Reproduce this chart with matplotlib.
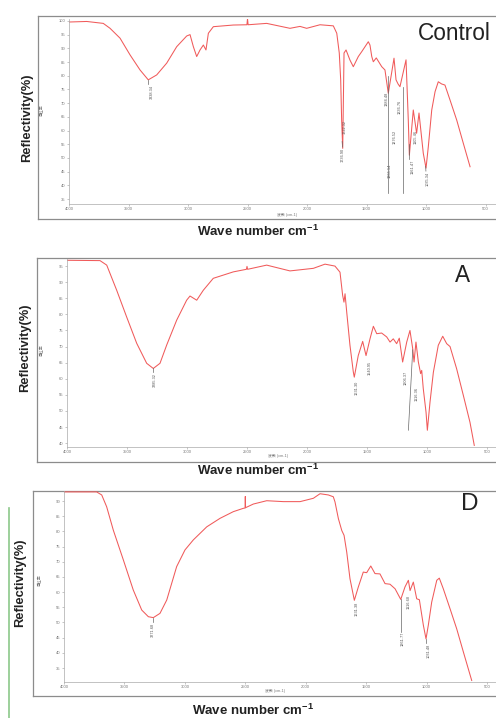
import numpy as np
import matplotlib
matplotlib.use("Agg")
import matplotlib.pyplot as plt

plt.rcParams['font.family'] = ['Liberation Sans', 'Noto Sans CJK SC', 'DejaVu Sans']
plt.rcParams['mathtext.fontset'] = 'custom'
plt.rcParams['mathtext.rm'] = 'Liberation Sans:bold'
plt.rcParams['mathtext.bf'] = 'Liberation Sans:bold'
plt.rcParams['mathtext.default'] = 'bf'

W, H = 496, 718

# ---- Control spectrum (wavenumber, %) ----
ctrl_wn = [4000, 3851, 3712, 3655, 3571, 3487, 3403, 3334, 3263, 3179, 3095, 3011, 2983,
           2955, 2927, 2899, 2871, 2849, 2829, 2787, 2619, 2505, 2500, 2495, 2339, 2143,
           2059, 2003, 1891, 1779, 1750, 1729, 1717, 1709, 1700, 1689, 1672, 1639, 1611,
           1569, 1540, 1485, 1471, 1456, 1443, 1418, 1372, 1345, 1317, 1269, 1252, 1235,
           1219, 1168, 1149, 1140, 1107, 1079, 1059, 1023, 1000, 981, 952, 924, 897, 869,
           841, 798, 742, 687, 630]
ctrl_val = [99.6, 99.8, 99.1, 97.3, 93.7, 87.6, 82.1, 78.5, 80.3, 84.6, 90.6, 94.5, 95.0,
            90.6, 87.0, 89.4, 91.2, 89.4, 95.5, 97.9, 98.5, 98.6, 100.8, 98.6, 99.1, 97.3,
            98.0, 97.3, 98.6, 98.2, 95.5, 88.3, 78.5, 63.8, 53.5, 88.3, 89.4, 85.7, 83.3,
            87.0, 88.8, 92.4, 91.2, 87.0, 85.1, 86.5, 83.3, 82.1, 73.6, 86.4, 78.5, 77.0,
            76.0, 85.8, 63.8, 51.0, 67.5, 59.0, 66.4, 51.7, 46.3, 54.0, 67.5, 74.2, 77.8, 77.0,
            76.6, 71.1, 63.8, 55.4, 46.8]
ctrl_lab = ["3338.34", "1736.90", "1722.32", "1384.48", "1365.14", "1276.52", "1236.76",
            "1161.47", "1105.46", "1035.34"]
ctrl_lab_wn = [3303, 1700, 1682, 1330, 1303, 1261, 1219, 1112, 1084, 989]
ctrl_lab_top = [76.6, 53.6, 63.8, 74.2, 48.0, 60.2, 71.1, 49.2, 60.2, 45.0]
ctrl_lead = [([3334, 3334], [78.5, 77.0]), ([1705, 1702], [56.0, 54.0]),
             ([1322, 1322], [80.0, 37.2]), ([1197, 1197], [76.0, 37.2]),
             ([1147, 1147], [55.0, 49.5]), ([1003, 1001], [47.0, 45.2])]

# ---- A spectrum ----
a_wn = [4000, 3725, 3669, 3586, 3503, 3419, 3336, 3281, 3225, 3169, 3086, 3003, 2975, 2919,
        2864, 2781, 2614, 2505, 2500, 2495, 2336, 2142, 1947, 1850, 1767, 1725, 1703, 1692,
        1683, 1669, 1642, 1614, 1606, 1573, 1536, 1508, 1475, 1447, 1419, 1378, 1336, 1308,
        1281, 1253, 1231, 1203, 1169, 1142, 1119, 1108, 1092, 1072, 1053, 1044, 1031, 1008,
        997, 975, 947, 906, 869, 836, 808, 753, 697, 642, 606]
a_val = [96.8, 96.7, 95.3, 87.5, 79.2, 71.0, 64.8, 63.2, 64.8, 70.5, 78.2, 84.4, 85.7, 84.4,
         87.5, 91.2, 93.2, 94.0, 94.9, 94.0, 95.3, 93.5, 94.3, 95.6, 95.0, 93.1, 85.9, 83.8,
         86.4, 80.7, 70.4, 62.1, 60.5, 67.2, 71.6, 67.2, 72.4, 76.3, 74.0, 74.2, 73.0, 71.4,
         72.4, 70.9, 72.6, 65.2, 71.4, 75.0, 69.3, 65.2, 71.4, 65.2, 61.6, 62.6, 56.9, 49.6,
         44.0, 52.7, 62.0, 70.4, 73.2, 70.9, 70.0, 63.1, 54.8, 46.5, 39.3]
a_lab = ["3285.32", "1631.30", "1540.95", "1206.37", "1116.36"]
a_lab_wn = [3267, 1586, 1481, 1175, 1086]
a_lab_top = [61.7, 59.5, 65.7, 62.6, 57.4]
a_lead = [([3281, 3281], [63.2, 62.0]), ([1119, 1155], [69.0, 44.0])]

# ---- D spectrum ----
d_wn = [4000, 3730, 3688, 3647, 3592, 3509, 3427, 3357, 3302, 3261, 3206, 3150, 3068, 2999,
        2930, 2819, 2709, 2599, 2516, 2502, 2500, 2498, 2434, 2323, 2185, 2047, 1937, 1882,
        1813, 1772, 1758, 1730, 1702, 1683, 1661, 1634, 1598, 1565, 1524, 1496, 1462, 1427,
        1386, 1344, 1303, 1261, 1214, 1179, 1151, 1137, 1110, 1082, 1060, 1027, 1005, 986,
        958, 916, 895, 862, 806, 751, 696, 627]
d_val = [93.0, 93.0, 92.0, 88.1, 80.4, 70.6, 60.7, 54.1, 51.9, 51.6, 53.0, 57.4, 68.4, 73.9,
         77.2, 81.5, 84.3, 86.5, 87.6, 87.7, 91.5, 87.8, 89.0, 90.1, 89.8, 89.8, 90.9, 92.4,
         92.0, 91.4, 89.7, 84.2, 80.3, 78.7, 73.2, 64.4, 57.3, 61.7, 66.6, 66.4, 68.6, 66.1,
         66.0, 62.8, 62.6, 61.1, 57.6, 61.7, 63.9, 60.5, 63.3, 57.8, 57.5, 49.1, 44.6, 49.1,
         56.7, 63.9, 64.6, 61.1, 54.5, 47.9, 40.3, 30.9]
d_lab = ["3271.68", "1631.38", "1261.77", "1116.68", "1031.48"]
d_lab_wn = [3261, 1578, 1198, 1151, 986]
d_lab_top = [49.8, 56.7, 46.8, 59.0, 43.0]
d_lead = [([3261, 3261], [51.6, 50.0]), ([1212, 1212], [57.6, 46.8]),
          ([1005, 1005], [44.6, 43.4])]

x_ticks = [4000, 3500, 3000, 2500, 2000, 1500, 1000, 500]

panels = [
    dict(name="Control", wn=ctrl_wn, val=ctrl_val, lab=ctrl_lab, lab_wn=ctrl_lab_wn,
         lab_top=ctrl_lab_top, lead=ctrl_lead, yt=list(range(35, 101, 5)),
         frame=(38, 16, 219), inner=(69, 19, 204), ylim=(33.2, 100.7), xr=412,
         name_xy=(454, 33), name_fs=16.3, ylab_xy=(27, 118), xlab_xy=(258, 231),
         cn_x=(287, 215), cn_y=(42, 110)),
    dict(name="A", wn=a_wn, val=a_val, lab=a_lab, lab_wn=a_lab_wn, lab_top=a_lab_top,
         lead=a_lead, yt=list(range(40, 96, 5)),
         frame=(37, 258, 462), inner=(67, 259, 447), ylim=(38.8, 97.2), xr=425,
         name_xy=(463, 275), name_fs=16.3, ylab_xy=(25, 348), xlab_xy=(258, 470),
         cn_x=(278, 456), cn_y=(42, 350)),
    dict(name="D", wn=d_wn, val=d_val, lab=d_lab, lab_wn=d_lab_wn, lab_top=d_lab_top,
         lead=d_lead, yt=list(range(35, 91, 5)),
         frame=(33, 491, 696), inner=(64, 491, 682), ylim=(30.4, 93.3), xr=426,
         name_xy=(470, 504), name_fs=17.5, ylab_xy=(20, 583), xlab_xy=(253, 710),
         cn_x=(275, 691), cn_y=(40, 580)),
]


def rect(left, top, right, bottom):
    return [left / W, 1 - bottom / H, (right - left) / W, (bottom - top) / H]


fig = plt.figure(figsize=(W / 100, H / 100), dpi=100)

for p in panels:
    fl, ft, fb = p["frame"]
    fr = fig.add_axes(rect(fl, ft, 500, fb))
    fr.set_xticks([])
    fr.set_yticks([])
    for s in fr.spines.values():
        s.set_color('#8c8c8c')
        s.set_linewidth(0.9)

    il, it, ib = p["inner"]
    ax = fig.add_axes(rect(il, it, W, ib))
    ax.patch.set_alpha(0)
    ax.plot(p["wn"], p["val"], color='#f05a5a', lw=0.75)
    for xs, ys in p["lead"]:
        ax.plot(xs, ys, color='#666666', lw=0.5)
    for t, x, y in zip(p["lab"], p["lab_wn"], p["lab_top"]):
        ax.text(x, y, t, rotation=90, ha='center', va='top', fontsize=2.8, color='#555555')
    ax.set_xlim(4000, p["xr"])
    ax.set_ylim(*p["ylim"])
    ax.set_xticks(x_ticks)
    ax.set_yticks(p["yt"])
    ax.tick_params(length=1.5, width=0.4, color='#999999', labelsize=3,
                   labelcolor='#777777', pad=1)
    for s in ['top', 'right']:
        ax.spines[s].set_visible(False)
    for s in ['left', 'bottom']:
        ax.spines[s].set_color('#aaaaaa')
        ax.spines[s].set_linewidth(0.5)

    nx, ny = p["name_xy"]
    fig.text(nx / W, 1 - ny / H, p["name"], fontsize=p["name_fs"], color='#222222',
             ha='center', va='center')
    yx, yy = p["ylab_xy"]
    fig.text(yx / W, 1 - yy / H, "Reflectivity(%)", rotation=90, fontsize=9.3,
             fontweight='bold', color='#222222', ha='center', va='center')
    xx, xy = p["xlab_xy"]
    fig.text(xx / W, 1 - xy / H, r"Wave number cm$^{\mathbf{-1}}$", fontsize=9.5,
             fontweight='bold', color='#222222', ha='center', va='center')
    cx, cy = p["cn_x"]
    fig.text(cx / W, 1 - cy / H, "波数 (cm-1)", fontsize=2.8, color='#777777',
             ha='center', va='center')
    cx, cy = p["cn_y"]
    fig.text(cx / W, 1 - cy / H, "透过率", rotation=90, fontsize=2.8, color='#777777',
             ha='center', va='center')

# green strip at the left edge of the last panel
fig.add_artist(plt.Line2D([9 / W, 9 / W], [0, 1 - 508 / H], color='#8cc88a', lw=1.2))

fig.savefig("out.png", dpi=100)
